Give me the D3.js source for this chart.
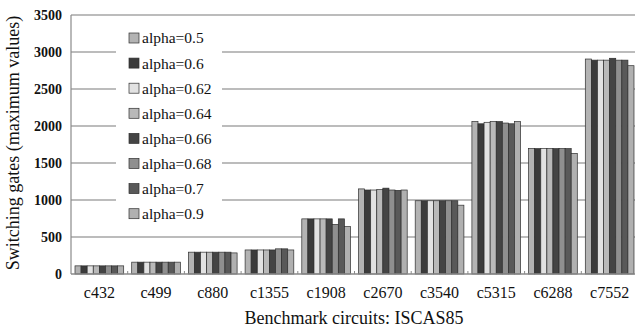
<!DOCTYPE html>
<html>
<head>
<meta charset="utf-8">
<script src="https://cdn.jsdelivr.net/npm/d3@7"></script>
<style>
  body { margin: 0; background: #fff; }
  text { font-family: 'Liberation Serif', 'Times New Roman', Times, 'DejaVu Serif', serif; }
</style>
</head>
<body>
<div id="chart"></div>
<script>
const WIDTH = 635, HEIGHT = 331
const FONT = "'Liberation Serif', 'Times New Roman', Times, 'DejaVu Serif', serif"

// benchmark circuits on x
var circuits = ["c432", "c499", "c880", "c1355", "c1908", "c2670", "c3540", "c5315", "c6288", "c7552"]
var alphas = ["alpha=0.5", "alpha=0.6", "alpha=0.62", "alpha=0.64", "alpha=0.66", "alpha=0.68", "alpha=0.7", "alpha=0.9"]
var colors = ["#b3b3b3", "#3b3b3b", "#e2e2e2", "#b9b9b9", "#444444", "#8f8f8f", "#595959", "#b0b0b0"]
var yTicks = [0, 500, 1000, 1500, 2000, 2500, 3000, 3500]

// one row per circuit, one value per alpha
var values = [
  [110, 110, 110, 110, 110, 110, 110, 110],
  [160, 160, 160, 160, 160, 160, 160, 160],
  [295, 295, 295, 295, 295, 295, 295, 285],
  [325, 325, 325, 325, 325, 340, 340, 325],
  [745, 745, 745, 745, 745, 670, 745, 640],
  [1150, 1135, 1135, 1140, 1160, 1135, 1130, 1135],
  [990, 990, 990, 990, 990, 990, 990, 930],
  [2060, 2030, 2050, 2060, 2060, 2040, 2030, 2060],
  [1695, 1695, 1695, 1695, 1695, 1695, 1695, 1630],
  [2905, 2890, 2890, 2890, 2915, 2890, 2890, 2815]
]

var margin = {top: 15, right: -3, bottom: 57, left: 71},
    width = WIDTH - margin.left - margin.right,
    height = HEIGHT - margin.top - margin.bottom

var svg = d3.select("#chart").append("svg")
  .attr("width", WIDTH)
  .attr("height", HEIGHT)
  .attr("font-family", FONT)

var g = svg.append("g")
  .attr("transform", "translate(" + margin.left + "," + margin.top + ")")

var x = d3.scaleBand().domain(circuits).range([0, width]).padding(0)
var xs = d3.scaleBand().domain(alphas).range([4, x.bandwidth() - 4]).padding(0)
var y = d3.scaleLinear().domain([0, 3500]).range([height, 0])

// gridlines
g.selectAll(".grid")
  .data(yTicks.filter(d => d > 0))
  .enter().append("line")
  .attr("x1", 0).attr("x2", width + 5)
  .attr("y1", d => y(d)).attr("y2", d => y(d))
  .attr("stroke", "#7a7a7a")
  .attr("stroke-width", 1.2)

// legend background hides the gridlines behind it
g.append("rect")
  .attr("x", 45).attr("y", 6)
  .attr("width", 106).attr("height", 210)
  .attr("fill", "#fff")

// bars
var groups = g.selectAll(".grp")
  .data(circuits)
  .enter().append("g")
  .attr("transform", d => "translate(" + x(d) + ",0)")

groups.selectAll("rect")
  .data((d, i) => values[i].map((v, j) => ({alpha: alphas[j], value: v, color: colors[j]})))
  .enter().append("rect")
  .attr("x", d => xs(d.alpha))
  .attr("y", d => y(d.value))
  .attr("width", xs.bandwidth())
  .attr("height", d => height - y(d.value))
  .attr("fill", d => d.color)
  .attr("stroke", "#2e2e2e")
  .attr("stroke-width", 0.7)

// axes
g.append("line")
  .attr("x1", 0).attr("x2", 0)
  .attr("y1", 0).attr("y2", height)
  .attr("stroke", "#8a8a8a").attr("stroke-width", 1.2)
g.append("line")
  .attr("x1", 0).attr("x2", width + 5)
  .attr("y1", height).attr("y2", height)
  .attr("stroke", "#8a8a8a").attr("stroke-width", 1.5)

// small ticks between groups
g.selectAll(".xt")
  .data(circuits.slice(1))
  .enter().append("line")
  .attr("x1", d => x(d)).attr("x2", d => x(d))
  .attr("y1", height - 3).attr("y2", height)
  .attr("stroke", "#8a8a8a")

// y tick labels
g.selectAll(".yl")
  .data(yTicks)
  .enter().append("text")
  .attr("x", -9)
  .attr("y", d => y(d))
  .attr("dy", "0.35em")
  .attr("text-anchor", "end")
  .style("font-size", "14px")
  .style("font-weight", "bold")
  .attr("fill", "#111")
  .text(d => d)

// x tick labels
g.selectAll(".xl")
  .data(circuits)
  .enter().append("text")
  .attr("x", d => x(d) + x.bandwidth() / 2)
  .attr("y", height + 24)
  .attr("text-anchor", "middle")
  .style("font-size", "16px")
  .attr("fill", "#111")
  .text(d => d)

// axis titles
svg.append("text")
  .attr("x", margin.left + 283)
  .attr("y", 324)
  .attr("text-anchor", "middle")
  .style("font-size", "18px")
  .attr("fill", "#111")
  .text("Benchmark circuits: ISCAS85")

svg.append("text")
  .attr("transform", "translate(19,143) rotate(-90)")
  .attr("text-anchor", "middle")
  .style("font-size", "18px")
  .attr("fill", "#111")
  .text("Switching gates (maximum values)")

// legend
var legend = g.selectAll(".leg")
  .data(alphas)
  .enter().append("g")
  .attr("transform", (d, i) => "translate(58," + (23 + i * 25.1) + ")")

legend.append("rect")
  .attr("x", 0).attr("y", -5)
  .attr("width", 10).attr("height", 10)
  .attr("fill", (d, i) => colors[i])
  .attr("stroke", "#2e2e2e")
  .attr("stroke-width", 0.7)

legend.append("text")
  .attr("x", 13)
  .attr("dy", "0.35em")
  .style("font-size", "15.5px")
  .attr("fill", "#111")
  .text(d => d)
</script>
</body>
</html>
